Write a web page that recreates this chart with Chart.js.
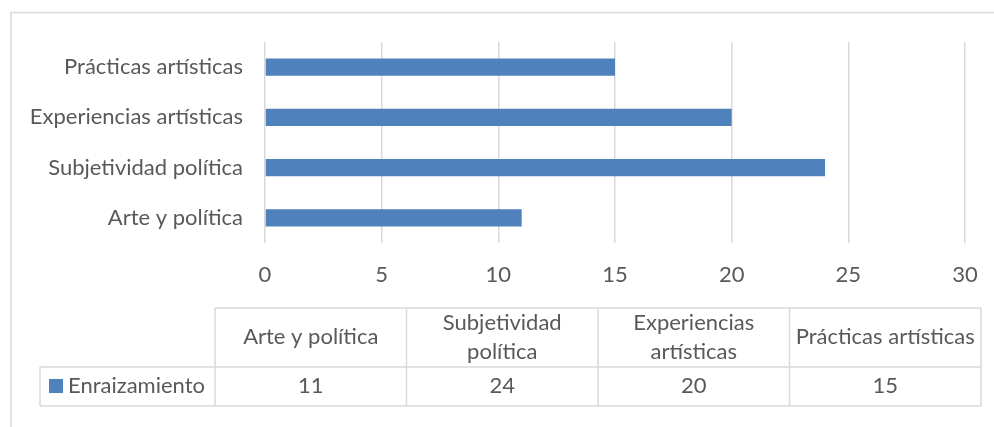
<!DOCTYPE html>
<html>
<head>
<meta charset="utf-8">
<script src="https://cdn.jsdelivr.net/npm/chart.js@4"></script>
<style>
html,body{margin:0;padding:0;background:#fff;}
#wrap{width:994px;height:427px;}
</style>
</head>
<body>
<div id="wrap"><canvas id="c" width="994" height="427"></canvas></div>
<script>
const categories = ['Arte y política', 'Subjetividad política', 'Experiencias artísticas', 'Prácticas artísticas'];
const seriesName = 'Enraizamiento';
const values = [11, 24, 20, 15];
const xTicks = [0, 5, 10, 15, 20, 25, 30];

const FONT = 'Lato, "Open Sans", sans-serif';
const FS = 22;
const TXT = '#595959';
const GRID = '#d9d9d9';
const BAR = '#4f81bd';

const tablePlugin = {
  id: 'dataTable',
  beforeDraw(chart) {
    const ctx = chart.ctx;
    ctx.save();
    ctx.fillStyle = '#fff';
    ctx.fillRect(0, 0, chart.width, chart.height);
    ctx.strokeStyle = GRID;
    ctx.lineWidth = 1.5;
    ctx.strokeRect(11, 12.5, 1000, 440);
    ctx.restore();
  },
  afterDraw(chart) {
    const ctx = chart.ctx;
    const colX0 = 215, colW = 191.5, top = 308, mid = 367, bot = 406, legL = 40;
    const n = categories.length;
    ctx.save();
    ctx.strokeStyle = GRID;
    ctx.lineWidth = 1.5;
    ctx.beginPath();
    ctx.moveTo(colX0, top); ctx.lineTo(colX0 + n * colW, top);
    ctx.moveTo(legL, mid); ctx.lineTo(colX0 + n * colW, mid);
    ctx.moveTo(legL, bot); ctx.lineTo(colX0 + n * colW, bot);
    ctx.moveTo(legL, mid); ctx.lineTo(legL, bot);
    for (let i = 0; i <= n; i++) {
      ctx.moveTo(colX0 + i * colW, top); ctx.lineTo(colX0 + i * colW, bot);
    }
    ctx.stroke();
    ctx.font = FS + 'px ' + FONT;
    ctx.fillStyle = TXT;
    ctx.textAlign = 'center';
    ctx.textBaseline = 'middle';
    for (let i = 0; i < n; i++) {
      const cx = colX0 + i * colW + colW / 2;
      const label = categories[i];
      const w = ctx.measureText(label).width;
      if (w > colW - 4) {
        const words = label.split(' ');
        const l1 = words.slice(0, words.length - 1).join(' ');
        const l2 = words[words.length - 1];
        ctx.fillText(l1, cx, 323);
        ctx.fillText(l2, cx, 352);
      } else {
        ctx.fillText(label, cx, 337);
      }
      ctx.fillText(String(values[i]), cx, 386);
    }
    ctx.fillStyle = BAR;
    ctx.fillRect(49, 379, 14, 14);
    ctx.fillStyle = TXT;
    ctx.textAlign = 'left';
    ctx.fillText(seriesName, 68, 386);
    ctx.restore();
  }
};

new Chart(document.getElementById('c'), {
  type: 'bar',
  data: {
    labels: categories,
    datasets: [{
      label: seriesName,
      data: values,
      backgroundColor: BAR,
      borderWidth: 0,
      categoryPercentage: 1,
      barPercentage: 0.345
    }]
  },
  options: {
    indexAxis: 'y',
    responsive: false,
    animation: false,
    devicePixelRatio: 1,
    layout: { padding: { left: 0, right: 29, top: 42, bottom: 139 } },
    plugins: { legend: { display: false }, tooltip: { enabled: false } },
    scales: {
      x: {
        min: 0, max: 30,
        afterBuildTicks(scale) { scale.ticks = xTicks.map(v => ({ value: v })); },
        afterFit(scale) { scale.height = 45; scale.paddingLeft = 0; scale.paddingRight = 0; },
        grid: { color: GRID, lineWidth: 1.5, drawTicks: false },
        border: { display: false },
        ticks: { color: TXT, padding: 19, font: { family: FONT, size: FS } }
      },
      y: {
        reverse: true,
        afterFit(scale) { scale.width = 265; scale.paddingTop = 0; scale.paddingBottom = 0; },
        grid: { display: false, drawTicks: false },
        border: { display: false },
        ticks: { color: TXT, padding: 22, font: { family: FONT, size: FS } }
      }
    }
  },
  plugins: [tablePlugin]
});
</script>
</body>
</html>
